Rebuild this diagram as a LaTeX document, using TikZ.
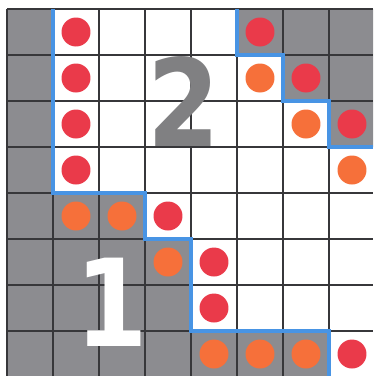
\documentclass[tikz,border=0pt]{standalone}
\usepackage{fontspec}
\newfontfamily\digitfont{DejaVu Sans}
\usetikzlibrary{positioning}
\definecolor{cellgray}{RGB}{140,140,144}
\definecolor{gridline}{RGB}{55,55,58}
\definecolor{borderblue}{RGB}{72,148,228}
\definecolor{dotred}{RGB}{234,58,74}
\definecolor{dotorange}{RGB}{246,112,58}
\definecolor{numgray}{RGB}{128,128,130}

\begin{document}
\begin{tikzpicture}[x=1cm, y=1cm,
    reddot/.style={circle, fill=dotred, inner sep=0pt, minimum size=0.63cm},
    orangedot/.style={circle, fill=dotorange, inner sep=0pt, minimum size=0.63cm},
    bignum/.style={inner sep=0pt, xscale=0.86, font=\digitfont\bfseries\fontsize{75}{75}\selectfont}]
    % Frame (image cut off at right and bottom)
    \useasboundingbox[fill=white] (-0.152, 0.196) rectangle (7.957, -7.978);

    % Gray regions
    \fill[cellgray] (0,0) -- (1,0) -- (1,-4) -- (3,-4) -- (3,-5) -- (4,-5) -- (4,-7) -- (7,-7) -- (7,-7.978) -- (0,-7.978) -- cycle;
    \fill[cellgray] (5,0) -- (5,-1) -- (6,-1) -- (6,-2) -- (7,-2) -- (7,-3) -- (7.957,-3) -- (7.957,0) -- cycle;

    % Grid
    \foreach \i in {0,...,7} {
        \draw[gridline, line width=1pt] (\i, 0) -- (\i, -7.978);
        \draw[gridline, line width=1pt] (0, -\i) -- (7.957, -\i);
    }

    % Borders
    \draw[borderblue, line width=3pt] (1,0) -- (1,-4) -- (3,-4) -- (3,-5) -- (4,-5) -- (4,-7) -- (7,-7) -- (7,-7.978);
    \draw[borderblue, line width=3pt] (5,0) -- (5,-1) -- (6,-1) -- (6,-2) -- (7,-2) -- (7,-3) -- (7.957,-3);

    % Dots
    \foreach \c/\r [count=\k] in {1/0, 1/1, 1/2, 1/3, 5/0, 6/1, 7/2, 3/4, 4/5, 4/6, 7/7}
        \node[reddot] (r\k) at (\c+0.5, -\r-0.5) {};
    \foreach \c/\r [count=\k] in {5/1, 6/2, 7/3, 1/4, 2/4, 3/5, 4/7, 5/7, 6/7}
        \node[orangedot] (o\k) at (\c+0.5, -\r-0.5) {};

    % Numbers
    \node[bignum, text=numgray] (two) at (3.85, -2.0) {2};
    \node[bignum, text=white] (one) at (2.28, -6.37) {1};
\end{tikzpicture}
\end{document}
